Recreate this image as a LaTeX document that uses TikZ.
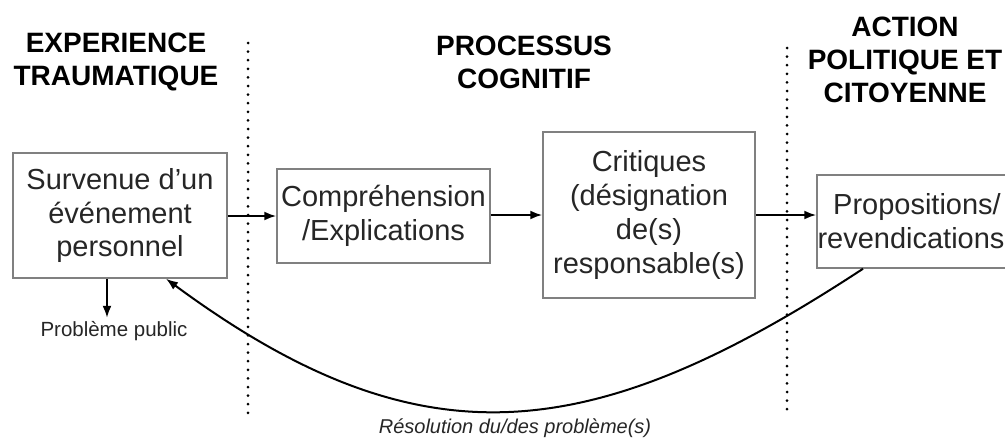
\documentclass[tikz,border=0pt]{standalone}
\usepackage{fontspec}
\setmainfont{Liberation Sans}
\usetikzlibrary{arrows.meta}

\begin{document}
\begin{tikzpicture}[x=1pt, y=-1pt,
    box/.style={draw=black!50, line width=1.5pt, align=center, text=black!85,
        font=\fontsize{29}{34}\selectfont, inner sep=0pt},
    title/.style={align=center, font=\fontsize{28}{33}\selectfont\bfseries},
    flow/.style={line width=2pt, -{Latex[length=12pt,width=9pt]}},
    sep/.style={line width=3pt, dash pattern=on 0pt off 8.6pt, line cap=round}]
    \useasboundingbox (0,0) rectangle (1005,439);
    % column headings
    \node[title] (t1) at (116,62) {EXPERIENCE\\TRAUMATIQUE};
    \node[title] (t2) at (524,62) {PROCESSUS\\COGNITIF};
    \node[title] (t3) at (905,60) {ACTION\\POLITIQUE ET\\CITOYENNE};
    % separators
    \coordinate (s1a) at (248,43);
    \coordinate (s1b) at (248,414);
    \coordinate (s2a) at (787,48);
    \coordinate (s2b) at (787,414);
    \draw[sep] (s1a) -- (s1b);
    \draw[sep] (s2a) -- (s2b);
    % boxes
    \node[box, minimum width=214pt, minimum height=125pt] (1) at (120,215.5) {Survenue d'un\\événement\\personnel};
    \node[box, minimum width=213pt, minimum height=94pt] (2) at (383.5,216) {Compréhension\\/Explications};
    \node[box, minimum width=212pt, minimum height=166pt] (3) at (649,215) {Critiques\\(désignation\\de(s)\\responsable(s)};
    \node[box, minimum width=200pt, minimum height=93pt, text width=200pt] (4) at (917,221.5) {Propositions/\\\hspace*{-12pt}revendications};
    \node[text=black!85, font=\fontsize{20.5}{24}\selectfont] (p) at (114,331) {Problème public};
    \node[text=black!85, font=\fontsize{20}{24}\selectfont\itshape] (r) at (515,428) {Résolution du/des problème(s)};
    % arrows
    \draw[flow] (1.east |- 0,216) -- (2.west |- 0,216);
    \draw[flow] (2.east |- 0,215) -- (3.west |- 0,215);
    \draw[flow] (3.east |- 0,215) -- (4.west |- 0,215);
    \draw[flow] (1.south -| 107,0) -- (p.north -| 107,0);
    \draw[flow] (4.south -| 863,0) .. controls (590,448) and (420,466) .. (1.south -| 166,0);
\end{tikzpicture}
\end{document}
